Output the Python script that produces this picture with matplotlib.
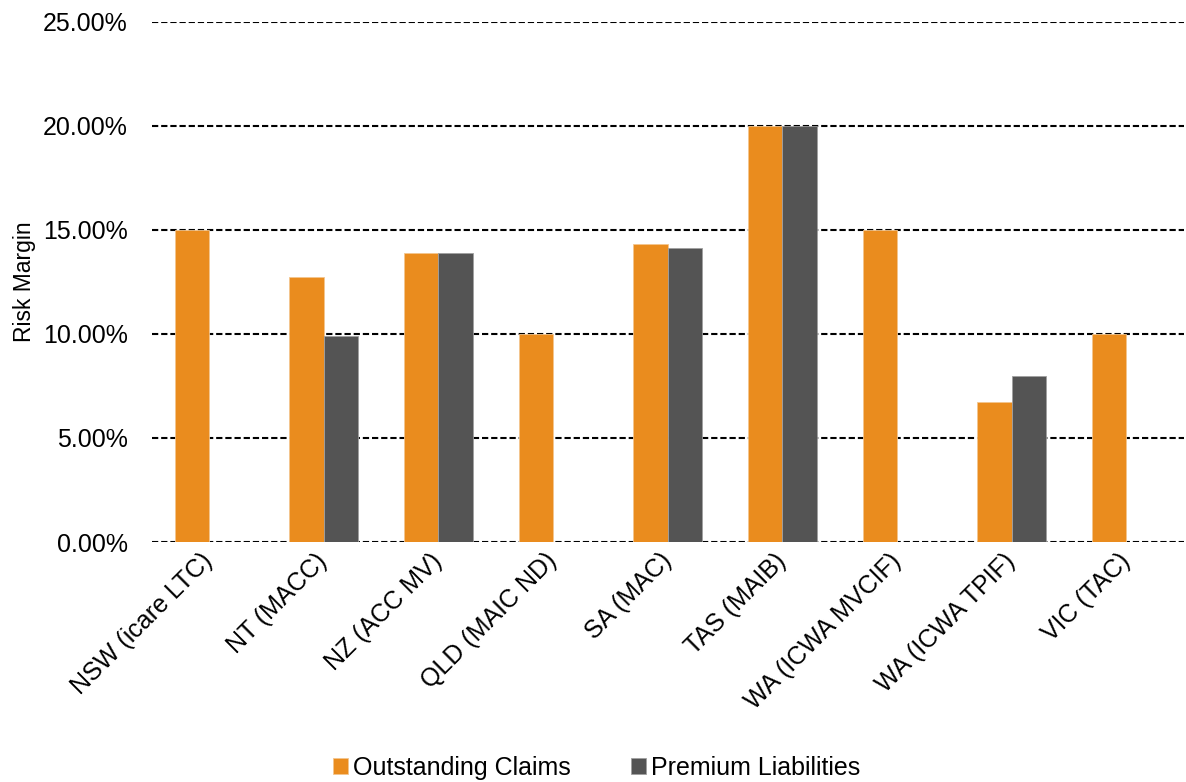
import matplotlib
matplotlib.use("Agg")
import matplotlib.pyplot as plt
import numpy as np

categories = ["NSW (icare LTC)", "NT (MACC)", "NZ (ACC MV)", "QLD (MAIC ND)", "SA (MAC)",
              "TAS (MAIB)", "WA (ICWA MVCIF)", "WA (ICWA TPIF)", "VIC (TAC)"]
outstanding_claims = [15.0, 12.75, 13.88, 10.0, 14.33, 20.0, 15.0, 6.75, 10.0]
premium_liabilities = [np.nan, 9.9, 13.88, np.nan, 14.15, 20.0, np.nan, 8.0, np.nan]
yticks = [0, 5, 10, 15, 20, 25]
ytick_labels = ["0.00%", "5.00%", "10.00%", "15.00%", "20.00%", "25.00%"]

plt.rcParams['font.family'] = ['Liberation Sans', 'DejaVu Sans']

fig = plt.figure(figsize=(11.86, 7.82), dpi=100)
ax = fig.add_axes([0.1278, 0.3069, 0.8702, 0.665])

x = np.arange(len(categories))
w = 0.30
orange = "#EA8C1E"
grey = "#545454"
ax.bar(x - w / 2, outstanding_claims, w, color=orange, edgecolor="#F3C68F", linewidth=0.6,
       label="Outstanding Claims", zorder=3)
ax.bar(x + w / 2, premium_liabilities, w, color=grey, edgecolor="#A0A0A0", linewidth=0.6,
       label="Premium Liabilities", zorder=3)

ax.set_xlim(-0.5, len(categories) - 0.5)
ax.set_ylim(0, 25)
ax.set_yticks(yticks)
ax.set_yticklabels(ytick_labels, fontsize=18)
for y in yticks:
    ax.axhline(y, color="black", linewidth=1.5, linestyle=(0, (3.0, 1.4)), zorder=1)

ax.set_xticks(x)
ax.set_xticklabels(categories, fontsize=18, rotation=45, ha="right", va="center",
                   rotation_mode="anchor")
ax.tick_params(axis="both", length=0)
ax.tick_params(axis="x", pad=11)
ax.tick_params(axis="y", pad=17)
for s in ax.spines.values():
    s.set_visible(False)

ax.set_ylabel("Risk Margin", fontsize=16.5, labelpad=5)

fig.legend(loc="lower center", ncol=2, frameon=False, fontsize=18,
           bbox_to_anchor=(0.503, -0.026), handlelength=0.6, handleheight=0.6,
           handletextpad=0.2, columnspacing=2.4)

fig.savefig("out.png", dpi=100)
